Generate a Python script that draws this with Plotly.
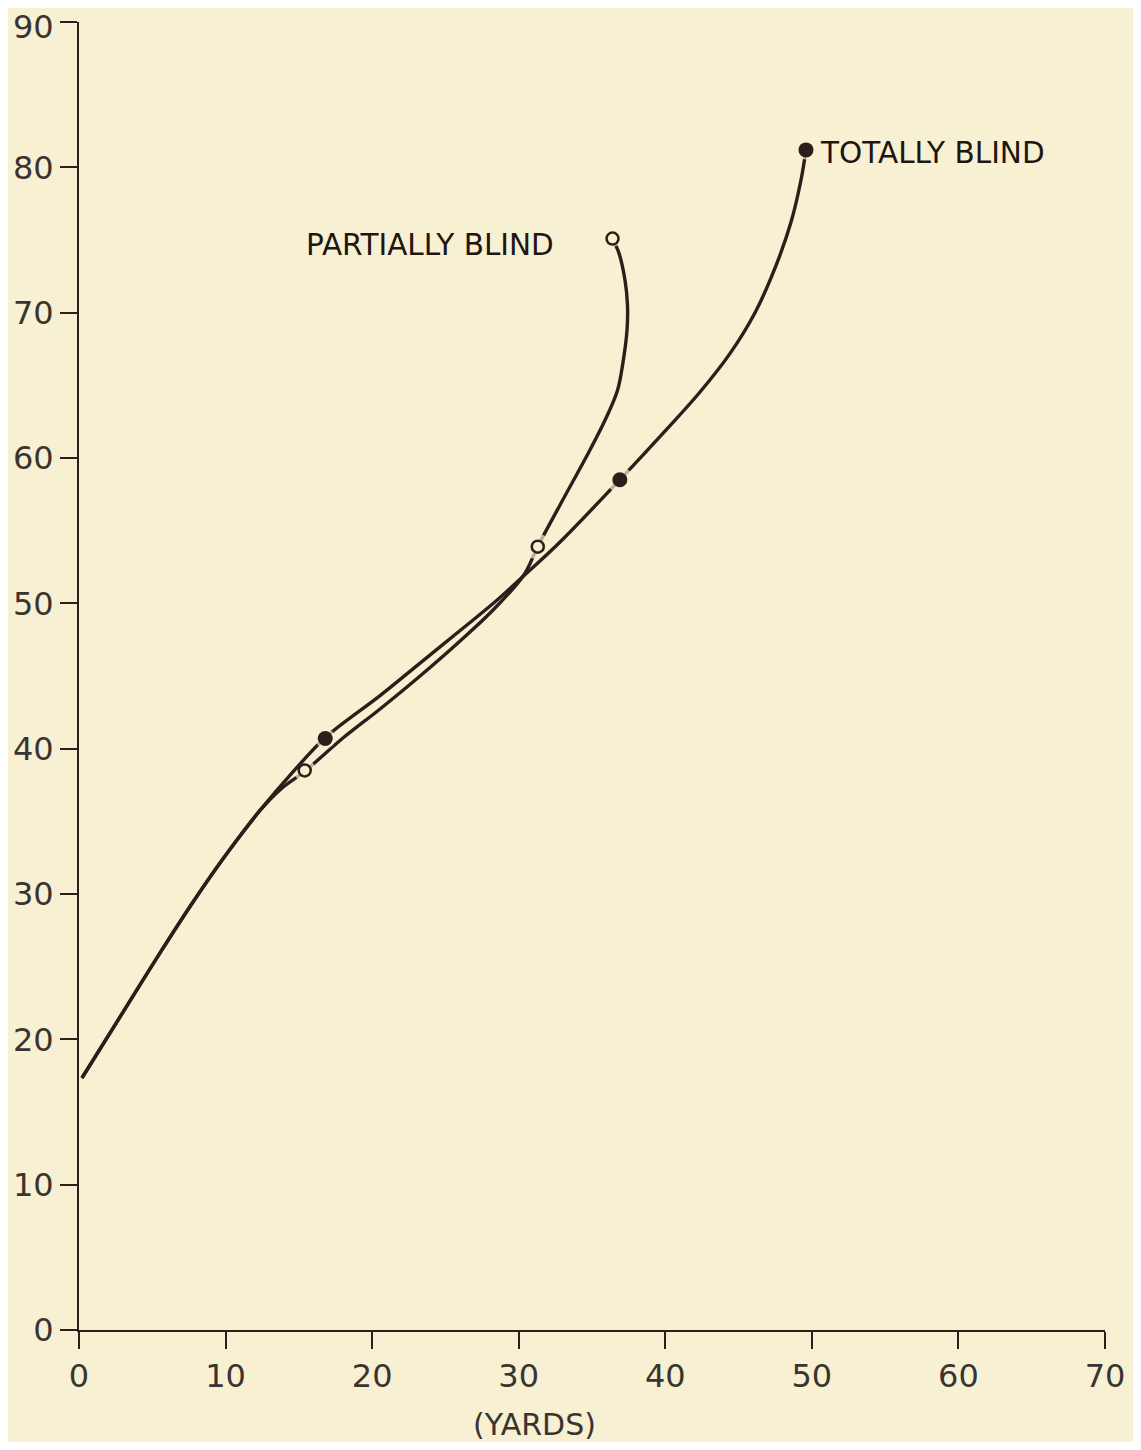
import plotly.graph_objects as go

# Shared start of both curves (yards, value)
common_x = [0.2, 3.27, 5.53, 7.78, 10.1, 12.35]
common_y = [17.34, 22.3, 25.95, 29.45, 32.8, 35.75]

# Totally blind curve
total_x = [14.6, 16.85, 20.54, 23.27, 26.0, 28.27, 30.57, 32.82, 36.9, 40.12, 42.37, 44.42, 46.12, 47.49, 48.58, 49.26, 49.6]
total_y = [38.4, 40.8, 43.65, 45.89, 48.13, 50.0, 52.1, 54.22, 58.5, 62.0, 64.54, 67.2, 70.0, 73.08, 76.24, 79.13, 81.19]
total_pts_x = [16.8, 36.9, 49.6]
total_pts_y = [40.7, 58.5, 81.2]

# Partially blind curve
partial_x = [13.8, 15.42, 18.01, 20.54, 23.27, 26.0, 28.25, 30.35, 31.32, 32.82, 34.86, 35.96, 36.73, 37.12, 37.39, 37.42, 37.25, 36.81, 36.37]
partial_y = [37.25, 38.46, 40.73, 42.73, 45.0, 47.41, 49.54, 51.95, 53.95, 56.77, 60.55, 62.75, 64.62, 66.61, 68.81, 70.53, 72.25, 74.18, 75.07]
partial_pts_x = [15.4, 31.3, 36.4]
partial_pts_y = [38.5, 53.9, 75.1]

x_ticks = [0, 10, 20, 30, 40, 50, 60, 70]
y_ticks = [0, 10, 20, 30, 40, 50, 60, 70, 80, 90]

BG = "#F8F0D2"
INK = "#2b2019"
TXT = "#3a3430"
LBL = "#1f1611"
TICKFONT = dict(family="DejaVu Sans", size=32, color=TXT)

fig = go.Figure()

# partially blind
fig.add_trace(go.Scatter(x=common_x + partial_x, y=common_y + partial_y, mode="lines",
                         line=dict(color=INK, width=3.4, shape="spline", smoothing=1.0),
                         hoverinfo="skip", showlegend=False, cliponaxis=False))
fig.add_trace(go.Scatter(x=partial_pts_x, y=partial_pts_y, mode="markers",
                         marker=dict(size=[22, 26, 17], color=BG, line=dict(width=0)),
                         hoverinfo="skip", showlegend=False, cliponaxis=False))
fig.add_trace(go.Scatter(x=partial_pts_x, y=partial_pts_y, mode="markers",
                         marker=dict(size=12, color=BG, line=dict(width=2.5, color=INK)),
                         showlegend=False, cliponaxis=False))

# totally blind
fig.add_trace(go.Scatter(x=common_x + total_x, y=common_y + total_y, mode="lines",
                         line=dict(color=INK, width=3.4, shape="spline", smoothing=1.0),
                         hoverinfo="skip", showlegend=False, cliponaxis=False))
fig.add_trace(go.Scatter(x=total_pts_x, y=total_pts_y, mode="markers",
                         marker=dict(size=[20, 26, 19], color=BG, line=dict(width=0)),
                         hoverinfo="skip", showlegend=False, cliponaxis=False))
fig.add_trace(go.Scatter(x=total_pts_x, y=total_pts_y, mode="markers",
                         marker=dict(size=15, color=INK, line=dict(width=0)),
                         showlegend=False, cliponaxis=False))

fig.add_annotation(x=50.45, y=81.0, text="TOTALLY BLIND", showarrow=False, xanchor="left",
                   yanchor="middle", font=dict(family="DejaVu Sans", size=29.5, color=LBL))
fig.add_annotation(x=23.95, y=74.66, text="PARTIALLY BLIND", showarrow=False, xanchor="center",
                   yanchor="middle", font=dict(family="DejaVu Sans", size=29.5, color=LBL))
fig.add_annotation(x=31.1, y=0, yshift=-94, text="(YARDS)", showarrow=False, xanchor="center",
                   yanchor="middle", font=dict(family="DejaVu Sans", size=30, color=TXT))

# top y tick label placed as an annotation so it stays inside the page
y_ticktext = [str(v) for v in y_ticks]
top_label = y_ticktext[-1]
y_ticktext[-1] = ""
fig.add_annotation(x=0, y=y_ticks[-1], text=top_label, showarrow=False, xanchor="right",
                   yanchor="middle", xshift=-23, yshift=-5, height=26, font=TICKFONT)

axis_common = dict(showgrid=False, zeroline=False, showline=True, linecolor=INK, linewidth=2,
                   ticks="outside", ticklen=17, tickwidth=2, tickcolor=INK, automargin=False,
                   tickfont=TICKFONT)

fig.update_xaxes(range=[0, 70], tickvals=x_ticks, ticktext=[str(v) for v in x_ticks],
                 ticklabelstandoff=0, **axis_common)
fig.update_yaxes(range=[0, 90], tickvals=y_ticks, ticktext=y_ticktext,
                 ticklabelstandoff=0, **axis_common)

fig.update_layout(width=1125, height=1434, paper_bgcolor=BG, plot_bgcolor=BG,
                  margin=dict(l=71, r=28, t=14, b=112), showlegend=False)

fig.write_html("out.html")
